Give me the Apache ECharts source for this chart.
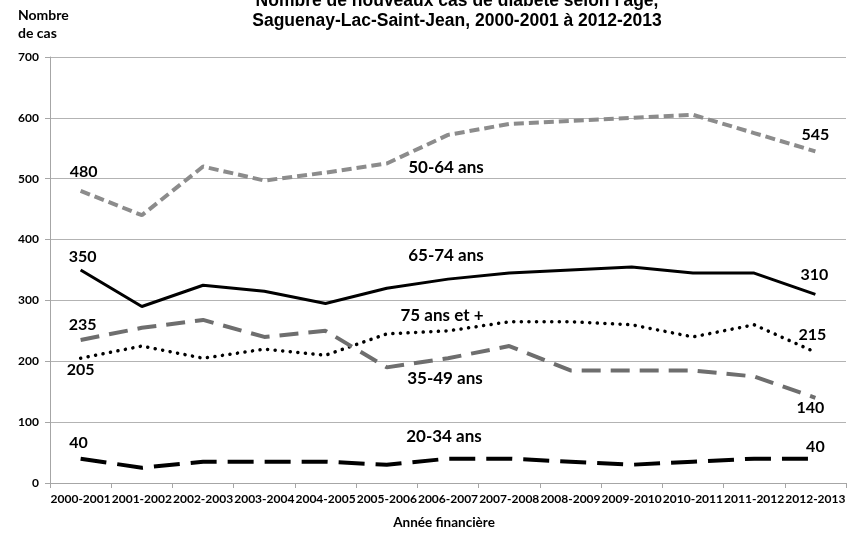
<!DOCTYPE html>
<html>
<head>
<meta charset="utf-8">
<script src="https://cdn.jsdelivr.net/npm/echarts@6/dist/echarts.min.js"></script>
<style>
  html, body { margin: 0; padding: 0; background: #ffffff; }
  #chart { width: 853px; height: 535px; }
</style>
</head>
<body>
<div id="chart"></div>
<script>
// Fiscal years on the x axis
const categories = ['2000-2001', '2001-2002', '2002-2003', '2003-2004', '2004-2005', '2005-2006',
  '2006-2007', '2007-2008', '2008-2009', '2009-2010', '2010-2011', '2011-2012', '2012-2013'];

// New diabetes cases per age group
const cas50a64 = [480, 440, 520, 497, 510, 525, 572, 590, 595, 600, 605, 575, 545];
const cas65a74 = [350, 290, 325, 315, 295, 320, 335, 345, 350, 355, 345, 345, 310];
const cas75plus = [205, 225, 205, 220, 210, 245, 250, 265, 265, 260, 240, 260, 215];
const cas35a49 = [235, 255, 268, 240, 250, 190, 205, 225, 185, 185, 185, 175, 140];
const cas20a34 = [40, 25, 35, 35, 35, 30, 40, 40, 35, 30, 35, 40, 40];

// Y axis scale
const yMin = 0, yMax = 700, yStep = 100;

const FONT = 'Lato, "Liberation Sans", sans-serif';
const TITLE_FONT = '"Liberation Sans", Arial, sans-serif';

// Where each group name sits: [category index, value, x shift]
const nameSpots = {
  '50-64 ans': [6, 519, -2],
  '65-74 ans': [6, 373, -2],
  '75 ans et +': [6, 275, -6],
  '35-49 ans': [6, 172, -3],
  '20-34 ans': [6, 77, -4]
};

// Label placement for the first and last values: [dx, dy]
const endLabels = {
  '50-64 ans': [[3, -19], [0, -16]],
  '65-74 ans': [[2, -13], [-1, -19]],
  '75 ans et +': [[0, 12], [-3, -17]],
  '35-49 ans': [[2, -15], [-5, 10]],
  '20-34 ans': [[-2, -16], [0, -12]]
};

function buildData(name, values) {
  const last = values.length - 1;
  return values.map((v, i) => {
    if (i !== 0 && i !== last) return v;
    const off = endLabels[name][i === 0 ? 0 : 1];
    return {
      value: v,
      label: {
        show: true, position: 'inside', offset: off,
        formatter: String(v), color: '#000', fontFamily: FONT, fontWeight: 'bold', fontSize: 16
      }
    };
  });
}

function makeSeries(name, values, lineStyle) {
  const spot = nameSpots[name];
  return {
    name: name,
    type: 'line',
    data: buildData(name, values),
    symbol: 'circle',
    symbolSize: 0,
    showSymbol: true,
    showAllSymbol: true,
    smooth: false,
    lineStyle: lineStyle,
    itemStyle: { color: lineStyle.color },
    label: { show: false },
    emphasis: { disabled: true },
    markPoint: {
      symbol: 'circle',
      symbolSize: 1,
      itemStyle: { color: 'rgba(0,0,0,0)' },
      label: {
        show: true, position: 'inside', offset: [spot[2], 0],
        color: '#000', fontFamily: FONT, fontWeight: 'bold', fontSize: 17,
        formatter: name
      },
      data: [{ coord: [spot[0], spot[1]] }]
    },
    z: 3
  };
}

const chart = echarts.init(document.getElementById('chart'), null, { renderer: 'canvas' });

chart.setOption({
  animation: false,
  backgroundColor: '#ffffff',
  title: {
    text: "Nombre de nouveaux cas de diabète selon l'âge,\nSaguenay-Lac-Saint-Jean, 2000-2001 à 2012-2013",
    left: 457,
    top: -9,
    padding: 0,
    textAlign: 'center',
    textStyle: { fontFamily: TITLE_FONT, fontWeight: 'bold', fontSize: 17.5, lineHeight: 20, color: '#000' }
  },
  graphic: [{
    type: 'text', left: 18, top: 6,
    style: { text: 'Nombre\nde cas', fontFamily: FONT, fontWeight: 'bold', fontSize: 14, lineHeight: 18, fill: '#000' }
  }],
  grid: { left: 50, right: 7, top: 57, bottom: 50, containLabel: false },
  xAxis: {
    type: 'category',
    data: categories,
    boundaryGap: true,
    name: 'Année financière',
    nameLocation: 'middle',
    nameGap: 33,
    nameTextStyle: { fontFamily: FONT, fontWeight: 'bold', fontSize: 13.5, color: '#000', padding: [0, 8, 0, 0] },
    axisLine: { lineStyle: { color: '#a6a6a6', width: 1 } },
    axisTick: { show: true, alignWithLabel: false, length: 5, lineStyle: { color: '#a6a6a6' } },
    axisLabel: { interval: 0, margin: 10, fontFamily: FONT, fontWeight: 'bold', fontSize: 12, color: '#000' },
    splitLine: { show: false }
  },
  yAxis: {
    type: 'value',
    min: yMin, max: yMax, interval: yStep,
    axisLine: { show: true, lineStyle: { color: '#a6a6a6', width: 1 } },
    axisTick: { show: true, length: 5, lineStyle: { color: '#a6a6a6' } },
    axisLabel: { margin: 11, fontFamily: FONT, fontWeight: 'bold', fontSize: 12, color: '#000' },
    splitLine: { show: true, lineStyle: { color: '#b3b3b3', width: 1 } }
  },
  series: [
    makeSeries('50-64 ans', cas50a64, { color: '#8c8c8c', width: 4, type: [10, 5], cap: 'butt' }),
    makeSeries('65-74 ans', cas65a74, { color: '#000000', width: 3, type: 'solid' }),
    makeSeries('75 ans et +', cas75plus, { color: '#000000', width: 3.5, type: [0.1, 7.5], cap: 'round' }),
    makeSeries('35-49 ans', cas35a49, { color: '#6e6e6e', width: 4, type: [19, 10], cap: 'butt' }),
    makeSeries('20-34 ans', cas20a34, { color: '#000000', width: 4, type: [26, 11], cap: 'butt' })
  ]
});
</script>
</body>
</html>
